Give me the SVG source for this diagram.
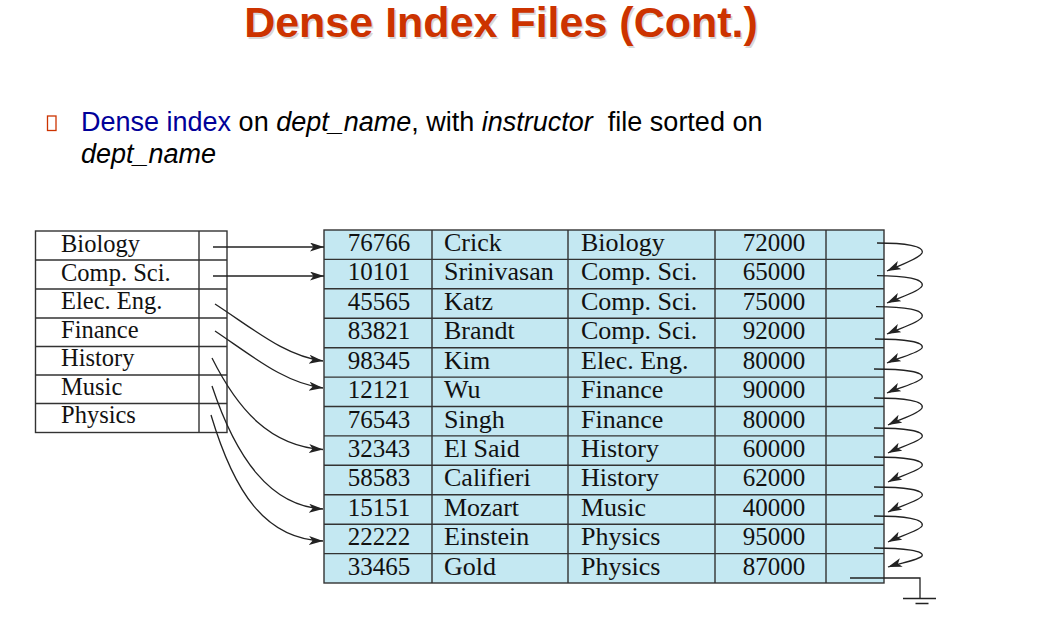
<svg xmlns="http://www.w3.org/2000/svg" width="1058" height="641" viewBox="0 0 1058 641">
  <style>
    .title { font-family: "Liberation Sans", Arial, sans-serif; font-weight: bold; font-size: 43px; }
    .body { font-family: "Liberation Sans", Arial, sans-serif; font-size: 27px; fill: #000; }
    .cell { font-family: "Liberation Serif", "Times New Roman", serif; font-size: 26px; fill: #111; }
    .idx { font-size: 24.5px; }
    .num { text-anchor: middle; font-size: 25px; }
    .grid { stroke: #333; stroke-width: 1.4; fill: none; }
    .conn { stroke: #222; stroke-width: 1.3; fill: none; }
  </style>
  <defs>
    <marker id="arrow" markerUnits="userSpaceOnUse" markerWidth="15" markerHeight="10" refX="14" refY="4.5" orient="auto">
      <path d="M0,0 L14,4.5 L0,9 L3.5,4.5 Z" fill="#222"/>
    </marker>
  </defs>

  <rect width="1058" height="641" fill="#fff"/>

  <!-- heading -->
  <g id="title">
    <text class="title" x="502.5" y="38.5" text-anchor="middle" fill="#aaa" opacity="0.45">Dense Index Files (Cont.)</text>
    <text class="title" x="501" y="37" text-anchor="middle" fill="#cc3300">Dense Index Files (Cont.)</text>
  </g>

  <!-- bullet line -->
  <g id="bullet">
    <rect x="47.5" y="116" width="8.5" height="14.5" fill="none" stroke="#cc3300" stroke-width="1.3"/>
    <text class="body" x="81" y="131" xml:space="preserve"><tspan fill="#000099">Dense index</tspan> on <tspan font-style="italic">dept_name</tspan>, with <tspan font-style="italic">instructor</tspan>  file sorted on</text>
    <text class="body" x="81" y="163" font-style="italic">dept_name</text>
  </g>

  <!-- dense index on dept_name -->
  <g id="index">
    <rect x="35.5" y="231" width="191.5" height="201.5" style="fill:#fff"/>
    <rect x="35.5" y="231" width="191.5" height="201.5" class="grid"/>
    <path class="grid" d="M35.5,260 H227 M35.5,289 H227 M35.5,318 H227 M35.5,346.5 H227 M35.5,375 H227 M35.5,403.5 H227 M199,231 V432.5"/>
    <g class="cell idx">
      <text x="61" y="252">Biology</text>
      <text x="61" y="280.5">Comp. Sci.</text>
      <text x="61" y="309">Elec. Eng.</text>
      <text x="61" y="337.5">Finance</text>
      <text x="61" y="366">History</text>
      <text x="61" y="394.5">Music</text>
      <text x="61" y="423">Physics</text>
    </g>
  </g>

  <!-- instructor file -->
  <g id="instructor">
    <rect x="324" y="230" width="560" height="353" style="fill:#c4e8f2"/>
    <rect x="324" y="230" width="560" height="353" class="grid"/>
    <path class="grid" d="M324,259.4 H884 M324,288.8 H884 M324,318.3 H884 M324,347.7 H884 M324,377.1 H884 M324,406.5 H884 M324,435.9 H884 M324,465.3 H884 M324,494.8 H884 M324,524.2 H884 M324,553.6 H884 M432,230 V583 M568,230 V583 M715,230 V583 M826,230 V583"/>
    <g class="cell">
      <text class="num" x="379" y="251">76766</text><text x="444" y="251">Crick</text><text x="581" y="251">Biology</text><text class="num" x="774" y="251">72000</text>
      <text class="num" x="379" y="280.4">10101</text><text x="444" y="280.4">Srinivasan</text><text x="581" y="280.4">Comp. Sci.</text><text class="num" x="774" y="280.4">65000</text>
      <text class="num" x="379" y="309.8">45565</text><text x="444" y="309.8">Katz</text><text x="581" y="309.8">Comp. Sci.</text><text class="num" x="774" y="309.8">75000</text>
      <text class="num" x="379" y="339.3">83821</text><text x="444" y="339.3">Brandt</text><text x="581" y="339.3">Comp. Sci.</text><text class="num" x="774" y="339.3">92000</text>
      <text class="num" x="379" y="368.7">98345</text><text x="444" y="368.7">Kim</text><text x="581" y="368.7">Elec. Eng.</text><text class="num" x="774" y="368.7">80000</text>
      <text class="num" x="379" y="398.1">12121</text><text x="444" y="398.1">Wu</text><text x="581" y="398.1">Finance</text><text class="num" x="774" y="398.1">90000</text>
      <text class="num" x="379" y="427.5">76543</text><text x="444" y="427.5">Singh</text><text x="581" y="427.5">Finance</text><text class="num" x="774" y="427.5">80000</text>
      <text class="num" x="379" y="456.9">32343</text><text x="444" y="456.9">El Said</text><text x="581" y="456.9">History</text><text class="num" x="774" y="456.9">60000</text>
      <text class="num" x="379" y="486.3">58583</text><text x="444" y="486.3">Califieri</text><text x="581" y="486.3">History</text><text class="num" x="774" y="486.3">62000</text>
      <text class="num" x="379" y="515.8">15151</text><text x="444" y="515.8">Mozart</text><text x="581" y="515.8">Music</text><text class="num" x="774" y="515.8">40000</text>
      <text class="num" x="379" y="545.2">22222</text><text x="444" y="545.2">Einstein</text><text x="581" y="545.2">Physics</text><text class="num" x="774" y="545.2">95000</text>
      <text class="num" x="379" y="574.6">33465</text><text x="444" y="574.6">Gold</text><text x="581" y="574.6">Physics</text><text class="num" x="774" y="574.6">87000</text>
    </g>
  </g>

  <!-- pointers -->
  <g id="connectors" class="conn">
    <!-- index entries to first matching record -->
    <path class="conn" marker-end="url(#arrow)" d="M213,247 H324"/>
    <path class="conn" marker-end="url(#arrow)" d="M213,276 H324"/>
    <path class="conn" marker-end="url(#arrow)" d="M215,304 C255,330 285,356 323,361"/>
    <path class="conn" marker-end="url(#arrow)" d="M215,331 C255,358 285,383 323,388"/>
    <path class="conn" marker-end="url(#arrow)" d="M212,358 C238,410 270,446 323,449.5"/>
    <path class="conn" marker-end="url(#arrow)" d="M212,386 C236,458 270,506 323,509"/>
    <path class="conn" marker-end="url(#arrow)" d="M211,415 C234,492 265,539 323,541"/>
    <!-- record chain -->
    <path class="conn" marker-end="url(#arrow)" d="M877,243 C905,243 925,246 922,253 C919,259 900,265 887,271"/>
    <path class="conn" marker-end="url(#arrow)" d="M877,275.7 C905,275.7 925,279 922,286 C919,292 900,297 887,303"/>
    <path class="conn" marker-end="url(#arrow)" d="M876,306.7 C905,306.7 925,310 922,317 C919,323 900,328 887,334"/>
    <path class="conn" marker-end="url(#arrow)" d="M875,339 C905,339 925,342 922,348 C919,353 900,357 887,363"/>
    <path class="conn" marker-end="url(#arrow)" d="M874,369 C905,369 925,372 922,378 C919,383 900,387 887,393"/>
    <path class="conn" marker-end="url(#arrow)" d="M874,398 C905,398 925,401 922,408 C919,414 900,419 888,425"/>
    <path class="conn" marker-end="url(#arrow)" d="M874,428 C905,428 925,431 922,437 C919,442 900,447 888,453"/>
    <path class="conn" marker-end="url(#arrow)" d="M874,457 C905,457 925,460 922,466 C919,471 900,476 888,482"/>
    <path class="conn" marker-end="url(#arrow)" d="M874,487 C905,487 925,490 922,496 C919,501 900,506 888,512"/>
    <path class="conn" marker-end="url(#arrow)" d="M874,516 C905,516 925,519 922,526 C919,531 900,536 888,542"/>
    <path class="conn" marker-end="url(#arrow)" d="M874,548 C905,548 925,551 922,556 C919,560 900,563 888,567"/>
    <!-- null pointer to ground -->
    <path class="conn" d="M850,578 H920 V598.5"/>
    <path class="conn" stroke-width="1.6" d="M903,598.5 H936 M915.5,603.5 H928.5"/>
  </g>
</svg>
